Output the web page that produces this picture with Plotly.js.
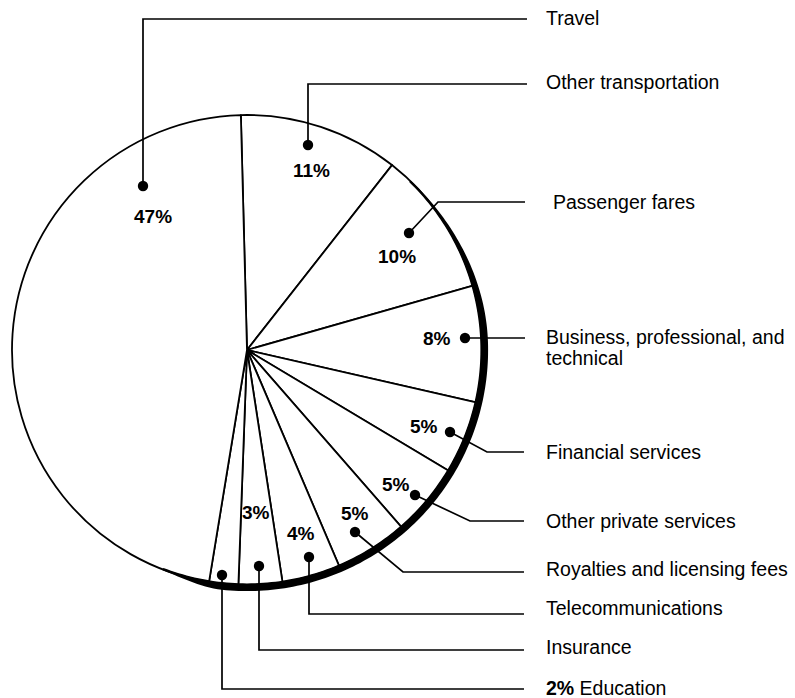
<!DOCTYPE html>
<html><head><meta charset="utf-8">
<script src="https://cdn.plot.ly/plotly-3.0.1.min.js"></script>
<style>html,body{margin:0;padding:0;background:#fff}</style>
</head><body><div id="chart" style="width:795px;height:698px"></div>
<script>
// ---- data (clockwise from 12 o'clock) ----
const categories = ['Other transportation', 'Passenger fares', 'Business, professional, and technical',
  'Financial services', 'Other private services', 'Royalties and licensing fees',
  'Telecommunications', 'Insurance', 'Education', 'Travel'];
const shares = [11, 10, 8, 5, 5, 5, 4, 3, 2, 47];
const labelLines = [['Other transportation'], ['Passenger fares'], ['Business, professional, and', 'technical'],
  ['Financial services'], ['Other private services'], ['Royalties and licensing fees'],
  ['Telecommunications'], ['Insurance'], ['Education'], ['Travel']];

// ---- geometry / style ----
const W = 795, H = 698, CX = 247, CY = 350, R = 235;
const M = {l: CX - R, t: CY - R, r: W - (CX + R), b: H - (CY + R), pad: 0};
const PW = 2 * R, PH = 2 * R;
const px = x => (x - M.l) / PW;
const py = y => (M.t + PH - y) / PH;
const FONT = 'Liberation Sans, Arial, Helvetica, sans-serif';

// leader line layout (pixels): dot, elbow path, label anchor, percent text centre
const leaders = [
  {dot: [308, 145], path: [[308, 84], [527, 84]], text: [544, 82], pct: [311, 171]},
  {dot: [409, 233], path: [[438, 202], [525, 202]], text: [551, 202], pct: [397, 256]},
  {dot: [465, 338], path: [[525, 338]], text: [544, 337], pct: [437, 338]},
  {dot: [450, 432], path: [[487, 452], [524, 452]], text: [544, 452], pct: [424, 426]},
  {dot: [415, 495], path: [[470, 521], [524, 521]], text: [544, 521], pct: [396, 484]},
  {dot: [355, 532], path: [[403, 572], [524, 572]], text: [544, 569], pct: [355, 513]},
  {dot: [309, 557], path: [[309, 614], [524, 614]], text: [544, 608], pct: [301, 533]},
  {dot: [259, 566], path: [[259, 650], [524, 650]], text: [544, 647], pct: [256, 512]},
  {dot: [222, 575], path: [[222, 689], [524, 689]], text: [544, 688], pct: null},
  {dot: [143, 186], path: [[143, 19], [527, 19]], text: [544, 18], pct: [153, 216]}
];

const shapes = [];
const annotations = [];

// thick rim along lower-right edge
const A0 = 44, A1 = 88, A2 = 186, A3 = 201, MX = 5.3;
function bandExt(deg) {
  if (deg <= A0 || deg >= A3) return 0;
  let t;
  if (deg < A1) { t = (deg - A0) / (A1 - A0); return MX * t * t * (3 - 2 * t); }
  if (deg > A2) { t = (A3 - deg) / (A3 - A2); return MX * t * t * (3 - 2 * t); }
  return MX;
}
(function () {
  const pts = [];
  for (let d = A0; d <= A3; d += 1) {
    const r = R + 0.8 + bandExt(d), a = d * Math.PI / 180;
    pts.push([CX + r * Math.sin(a), CY - r * Math.cos(a)]);
  }
  for (let d = A3; d >= A0; d -= 1) {
    const r = R - 1.6, a = d * Math.PI / 180;
    pts.push([CX + r * Math.sin(a), CY - r * Math.cos(a)]);
  }
  const path = 'M' + pts.map(p => px(p[0]).toFixed(5) + ',' + py(p[1]).toFixed(5)).join('L') + 'Z';
  shapes.push({type: 'path', xref: 'paper', yref: 'paper', path: path,
    fillcolor: '#000', line: {width: 0}, layer: 'above'});
})();

leaders.forEach((ld, i) => {
  const pts = [ld.dot].concat(ld.path);
  shapes.push({type: 'path', xref: 'paper', yref: 'paper',
    path: 'M' + pts.map(p => px(p[0]).toFixed(5) + ',' + py(p[1]).toFixed(5)).join('L'),
    line: {color: '#000', width: 1.7}});
  shapes.push({type: 'circle', xref: 'paper', yref: 'paper', xsizemode: 'pixel', ysizemode: 'pixel',
    xanchor: px(ld.dot[0]), yanchor: py(ld.dot[1]), x0: -5.2, x1: 5.2, y0: -5.2, y1: 5.2,
    fillcolor: '#000', line: {color: '#000', width: 0}});
  const lines = labelLines[i];
  lines.forEach((txt, k) => {
    let t = txt;
    if (ld.pct === null && k === 0) t = '<b>' + shares[i] + '%</b> ' + txt;
    annotations.push({xref: 'paper', yref: 'paper', x: px(ld.text[0]), y: py(ld.text[1] + k * 21),
      xanchor: 'left', yanchor: 'middle', showarrow: false, text: t,
      font: {family: FONT, size: 19.5, color: '#000'}});
  });
  if (ld.pct) {
    annotations.push({xref: 'paper', yref: 'paper', x: px(ld.pct[0]), y: py(ld.pct[1]),
      xanchor: 'center', yanchor: 'middle', showarrow: false, text: '<b>' + shares[i] + '%</b>',
      font: {family: FONT, size: 19, color: '#000'}});
  }
});

const trace = {
  type: 'pie', values: shares, labels: categories, sort: false, direction: 'clockwise',
  rotation: -1.5, textinfo: 'none', textposition: 'none', hoverinfo: 'none', showlegend: false,
  marker: {colors: shares.map(() => '#ffffff'), line: {color: '#000', width: 1.8}},
  domain: {x: [0, 1], y: [0, 1]}
};

const layout = {
  width: W, height: H, autosize: false, margin: M, showlegend: false,
  paper_bgcolor: '#fff', plot_bgcolor: '#fff', font: {family: FONT, color: '#000'},
  shapes: shapes, annotations: annotations
};
Plotly.newPlot('chart', [trace], layout, {displayModeBar: false, staticPlot: true});
</script></body></html>
